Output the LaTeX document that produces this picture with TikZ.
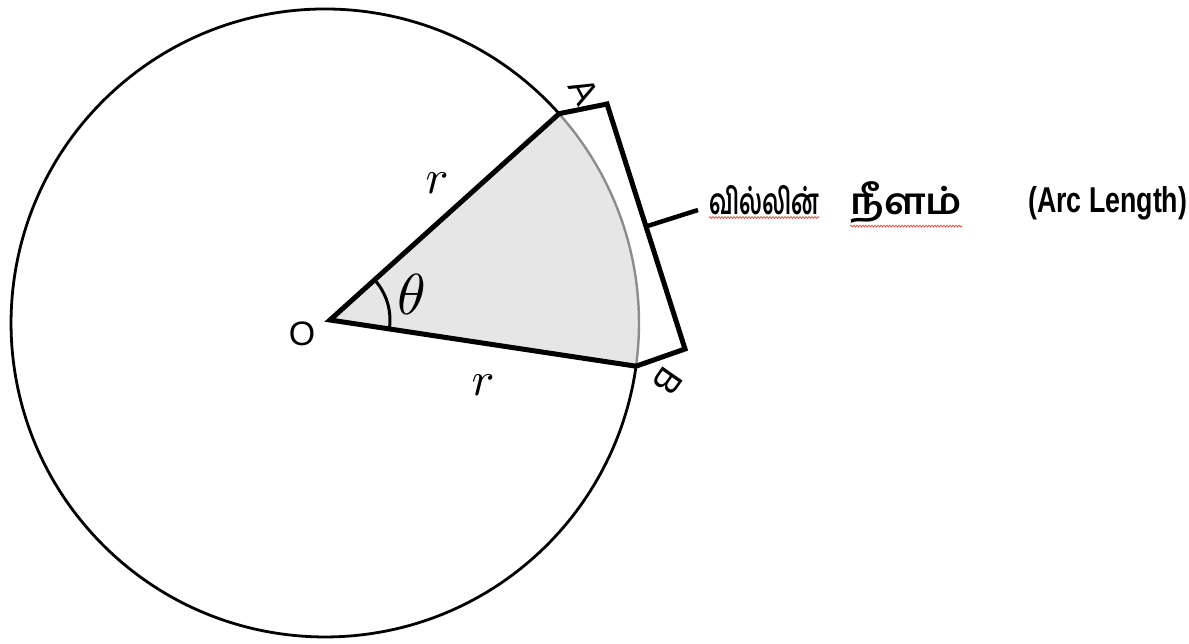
\documentclass[tikz,border=0pt]{standalone}
\usepackage{fontspec}
\newfontfamily\tamilfont[Script=Tamil]{Hind Madurai}
\newfontfamily\labfont{Liberation Sans}
\usetikzlibrary{calc,decorations.pathmorphing}
\definecolor{sectorfill}{HTML}{E6E6E6}
\definecolor{arcgray}{HTML}{8C8C8C}
\definecolor{squig}{HTML}{D9534F}
\newlength\vilwidth
\newlength\nilwidth
\begin{document}
\settowidth\vilwidth{\tamilfont\bfseries வில்லின்}
\settowidth\nilwidth{\tamilfont\bfseries நீளம்}
\begin{tikzpicture}[x=1bp,y=1bp,
  thickline/.style={line width=5bp, line join=miter},
  circline/.style={line width=2.8bp},
  ptlabel/.style={font=\labfont\fontsize{36}{36}\selectfont, inner sep=0pt},
  mathlabel/.style={inner sep=0pt},
  squiggle/.style={squig, line width=0.8bp, decorate, decoration={snake, amplitude=0.9bp, segment length=3bp}}]
\pgfmathsetmacro{\vilh}{110bp/\vilwidth}
\pgfmathsetmacro{\nilh}{112bp/\nilwidth}
\pgfmathsetmacro{\tamv}{0.9*113bp/\nilwidth}
\useasboundingbox (0,0) rectangle (1189,644);
% points
\coordinate (C) at (325,321);
\coordinate (O) at (330,324);
\coordinate (A) at (559.1,530.3);
\coordinate (B) at (636,277.8);
\coordinate (A2) at (607,540);
\coordinate (B2) at (685,295);
\coordinate (M) at ($(A2)!0.5!(B2)$);
\coordinate (L) at (698,434);
% sector fill
\fill[sectorfill] (O) -- (A) arc[start angle=41.8, end angle=-7.9, radius=314] -- cycle;
% circle
\draw[circline] (A) arc[start angle=41.8, end angle=352.1, radius=314];
\draw[circline, arcgray, line width=2.4bp] (B) arc[start angle=-7.9, end angle=41.8, radius=314];
% radii
\draw[thickline] (A) -- (O) -- (B);
% bracket
\draw[thickline] (A) -- (A2) -- (B2) -- (B);
\draw[line width=4.5bp] (M) -- (L);
% angle arc
\draw[line width=3bp] ($(O)+(-8.6:60)$) arc[start angle=-8.6, end angle=42, radius=60];
% labels
\node[mathlabel] (theta) at (412,350) {\scalebox{5.8}{$\theta$}};
\node[mathlabel] (r1) at (437,461) {\scalebox{4.8}{$r$}};
\node[mathlabel] (r2) at (483,259) {\scalebox{4.8}{$r$}};
\node[ptlabel, font=\labfont\fontsize{34}{34}\selectfont] (labO) at (302,310) {O};
\node[ptlabel, rotate=-62] (labA) at (584,553) {A};
\node[ptlabel, rotate=-125] (labB) at (668,263) {B};
% text
\node[anchor=base west, inner sep=0pt] (tam1) at (709,429) {\scalebox{\vilh}[\tamv]{\tamilfont\bfseries வில்லின்}};
\node[anchor=base west, inner sep=0pt] (tam2) at (850,429) {\scalebox{\nilh}[\tamv]{\tamilfont\bfseries நீளம்}};
\node[anchor=base west, inner sep=0pt] (arclen) at (1028,431) {\resizebox{159bp}{26bp}{\labfont\bfseries (Arc Length)}};
\draw[squiggle] (tam1.south west) ++(0,-2) coordinate (s1) -- (s1 -| tam1.south east);
\draw[squiggle] (tam2.south west) ++(0,-2) coordinate (s2) -- (s2 -| tam2.south east);
\end{tikzpicture}
\end{document}
